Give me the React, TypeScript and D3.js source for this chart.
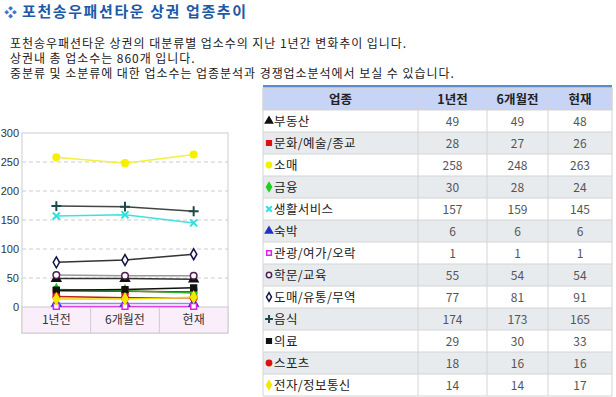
import React from 'react';
import * as d3 from 'd3';

const periods = ['1년전', '6개월전', '현재'];
const categories = ['부동산', '문화/예술/종교', '소매', '금융', '생활서비스', '숙박', '관광/여가/오락', '학문/교육', '도매/유통/무역', '음식', '의료', '스포츠', '전자/정보통신'];
const yearAgo = [49, 28, 258, 30, 157, 6, 1, 55, 77, 174, 29, 18, 14];
const sixMonthsAgo = [49, 27, 248, 28, 159, 6, 1, 54, 81, 173, 30, 16, 14];
const current = [48, 26, 263, 24, 145, 6, 1, 54, 91, 165, 33, 16, 17];
const yTicks = [0, 50, 100, 150, 200, 250, 300];
const headers = ['업종', '1년전', '6개월전', '현재'];

const titleText = '포천송우패션타운 상권 업종추이';
const descLines = [
  '포천송우패션타운 상권의 대분류별 업소수의 지난 1년간 변화추이 입니다.',
  '상권내 총 업소수는 860개 입니다.',
  '중분류 및 소분류에 대한 업소수는 업종분석과 경쟁업소분석에서 보실 수 있습니다.',
];

const symTimes = (d3 as any).symbolTimes ?? d3.symbolCross;

// marker style per category (same order as categories)
const markers = [
  { type: d3.symbolTriangle, fill: '#111', stroke: '#111', line: '#333' },
  { type: d3.symbolSquare, fill: '#e01010', stroke: '#e01010', line: '#9a1a10' },
  { type: d3.symbolCircle, fill: '#f5f000', stroke: '#f5f000', line: '#f2f040' },
  { type: d3.symbolDiamond, fill: '#20d020', stroke: '#20d020', line: '#30b030' },
  { type: symTimes, fill: 'none', stroke: '#30e0e0', line: '#40e0e0' },
  { type: d3.symbolTriangle, fill: '#2030c8', stroke: '#2030c8', line: '#8c8cf0' },
  { type: d3.symbolSquare, fill: '#fff', stroke: '#e020e0', line: '#e040e0' },
  { type: d3.symbolCircle, fill: '#fff', stroke: '#502050', line: '#999' },
  { type: d3.symbolDiamond, fill: '#fff', stroke: '#101048', line: '#333' },
  { type: d3.symbolPlus ?? d3.symbolCross, fill: 'none', stroke: '#1d4a48', line: '#444' },
  { type: d3.symbolSquare, fill: '#111', stroke: '#111', line: '#111' },
  { type: d3.symbolCircle, fill: '#e01010', stroke: '#e01010', line: '#c02010' },
  { type: d3.symbolDiamond, fill: '#f5e800', stroke: '#f5e800', line: '#f0d800' },
];

const font = '"Noto Sans CJK KR", "Noto Sans", sans-serif';

const Marker = ({ i, x, y, size }: { i: number; x: number; y: number; size: number }) => {
  const m = markers[i];
  const d = d3.symbol().type(m.type).size(size)() || '';
  const strokeOnly = m.fill === 'none';
  return (
    <path
      d={d}
      transform={`translate(${x},${y})`}
      fill={m.fill}
      stroke={m.stroke}
      strokeWidth={strokeOnly ? 2 : 1.5}
    />
  );
};

const App = () => {
  const series = categories.map((c, i) => [yearAgo[i], sixMonthsAgo[i], current[i]]);

  // chart area
  const x = d3.scaleBand().domain(periods).range([22, 228]);
  const y = d3.scaleLinear().domain([0, 300]).range([307, 133]);
  const bandBottom = 333;
  const line = d3.line<number>()
    .x((d, j) => (x(periods[j]) as number) + x.bandwidth() / 2)
    .y(d => y(d));

  // table
  const colX = [263, 418, 487, 548, 612];
  const headTop = 88;
  const rowH = 22;
  const rowY = d3.scaleBand<number>().domain(d3.range(categories.length)).range([headTop + rowH, headTop + rowH * (categories.length + 1)]);

  return (
    <svg width={616} height={397} style={{ position: 'absolute', left: 0, top: 0, display: 'block' }} fontFamily={font}>
      <rect width={616} height={397} fill="#fff" />
      {/* title */}
      <text x={4} y={17} fontSize={13} fill="#3a78c8">❖</text>
      <text x={22} y={17} fontSize={15} fontWeight="bold" fill="#1d5aa6" letterSpacing={1.6}>{titleText}</text>
      {descLines.map((t, i) => (
        <text key={i} x={10} y={48 + i * 15} fontSize={12} fill="#222" letterSpacing={0.95}>{t}</text>
      ))}

      {/* chart */}
      <rect x={22} y={133} width={206} height={200} fill="#fff" stroke="#ccc" />
      {yTicks.filter(t => t > 0 && t < 300).map(t => (
        <line key={t} x1={22} x2={228} y1={y(t)} y2={y(t)} stroke="#ccc" strokeDasharray="4,3" />
      ))}
      <rect x={22} y={y(0)} width={206} height={bandBottom - y(0)} fill="#fbeefb" stroke="#ccc" />
      {periods.slice(1).map(p => (
        <line key={p} x1={x(p)} x2={x(p)} y1={y(0)} y2={bandBottom} stroke="#ccc" />
      ))}
      {yTicks.map(t => (
        <text key={t} x={19} y={y(t) + 4} fontSize={11} textAnchor="end" fill="#333" fontFamily="Arial, Liberation Sans, sans-serif">{t}</text>
      ))}
      {periods.map(p => (
        <text key={p} x={(x(p) as number) + x.bandwidth() / 2} y={324} fontSize={12} textAnchor="middle" fill="#333">{p}</text>
      ))}
      {series.map((s, i) => (
        <path key={i} d={line(s) || ''} fill="none" stroke={markers[i].line} strokeWidth={1.5} />
      ))}
      {series.map((s, i) =>
        s.map((v, j) => (
          <Marker key={`${i}-${j}`} i={i} x={(x(periods[j]) as number) + x.bandwidth() / 2} y={y(v)} size={34} />
        ))
      )}

      {/* table */}
      <rect x={colX[0]} y={headTop - 3} width={colX[4] - colX[0]} height={3} fill="#5a8ad0" />
      <rect x={colX[0]} y={headTop} width={colX[4] - colX[0]} height={rowH} fill="#c8d4f6" stroke="#d4d4d4" />
      {headers.map((h, k) => (
        <text key={h} x={(colX[k] + colX[k + 1]) / 2} y={headTop + 15.5} fontSize={12.5} fontWeight="bold" textAnchor="middle" fill="#222">{h}</text>
      ))}
      {categories.map((c, i) => {
        const ry = rowY(i) as number;
        const vals = series[i];
        return (
          <g key={c}>
            <rect x={colX[0]} y={ry} width={colX[4] - colX[0]} height={rowH} fill={i % 2 === 0 ? '#fff' : '#e8ebee'} />
            <Marker i={i} x={colX[0] + 6} y={ry + 11} size={22} />
            <text x={colX[0] + 11} y={ry + 15.5} fontSize={12.5} fill="#222" letterSpacing={0.4}>{c}</text>
            {vals.map((v, k) => (
              <text key={k} x={(colX[k + 1] + colX[k + 2]) / 2} y={ry + 15.5} fontSize={12} textAnchor="middle" fill="#555">{v}</text>
            ))}
          </g>
        );
      })}
      {d3.range(categories.length + 2).map(k => (
        <line key={`h${k}`} x1={colX[0]} x2={colX[4]} y1={headTop + k * rowH} y2={headTop + k * rowH} stroke="#d4d4d4" />
      ))}
      {colX.map((cx, k) => (
        <line key={`v${k}`} x1={cx} x2={cx} y1={headTop} y2={headTop + rowH * (categories.length + 1)} stroke="#d4d4d4" />
      ))}
    </svg>
  );
};

export default App;
